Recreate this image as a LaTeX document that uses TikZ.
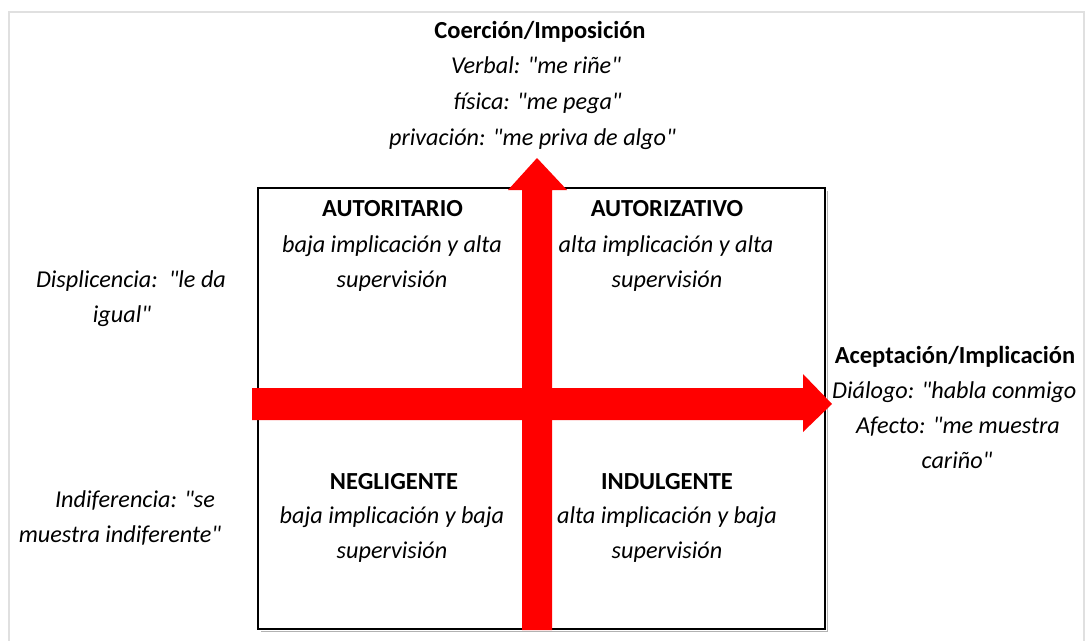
\documentclass[tikz,border=0pt]{standalone}
\usepackage{fontspec}
\setmainfont{Carlito}[Ligatures=TeXOff]
\begin{document}
\begin{tikzpicture}[x=1pt,y=-1pt,
  txt/.style={font=\fontsize{24.2}{28}\selectfont\itshape, inner sep=0pt, anchor=base},
  hdr/.style={font=\fontsize{24.5}{28}\selectfont\bfseries, inner sep=0pt, anchor=base},
  redarrow/.style={fill=red, draw=none}]
\useasboundingbox (0,0) rectangle (1085,641);
% outer frame
\draw[black!12, line width=1.5pt] (9,641) -- (9,12) -- (1084,12) -- (1084,641);
% box with light shadow
\draw[black!30, line width=1pt] (827,191) -- (827,631) -- (261,631);
\draw[black, line width=2.2pt] (258,188) rectangle (825,629);
% arrows
\fill[redarrow] (252,388) -- (803,388) -- (803,374) -- (832,404) -- (803,432) -- (803,420) -- (252,420) -- cycle;
\fill[redarrow] (522,630) -- (522,190) -- (508,190) -- (537,158) -- (567,190) -- (552,190) -- (552,630) -- cycle;
% top block
\node[hdr] (t1) at (540,38) {Coerción/Imposición};
\node[txt] (t2) at (536,73) {Verbal: "me riñe"};
\node[txt] (t3) at (537.5,109) {física: "me pega"};
\node[txt] (t4) at (532.5,145) {privación: "me priva de algo"};
% quadrants
\node[hdr] (q1a) at (392.5,216) {AUTORITARIO};
\node[txt] (q1b) at (392,252) {baja implicación y alta};
\node[txt] (q1c) at (392,287) {supervisión};
\node[hdr] (q2a) at (667,216) {AUTORIZATIVO};
\node[txt] (q2b) at (666,252) {alta implicación y alta};
\node[txt] (q2c) at (667,287) {supervisión};
\node[hdr] (q3a) at (394,489) {NEGLIGENTE};
\node[txt] (q3b) at (392,523) {baja implicación y baja};
\node[txt] (q3c) at (392,558) {supervisión};
\node[hdr] (q4a) at (667,489) {INDULGENTE};
\node[txt] (q4b) at (667,523) {alta implicación y baja};
\node[txt] (q4c) at (667,558) {supervisión};
% left
\node[txt] (l1) at (131,287) {Displicencia:\ \ "le da};
\node[txt] (l2) at (122,322) {igual"};
\node[txt] (l3) at (135,507) {Indiferencia: "se};
\node[txt] (l4) at (120,542) {muestra indiferente"};
% right
\node[hdr] (r1) at (955,363) {Aceptación/Implicación};
\node[txt, anchor=base west] (r2) at (832,398) {Diálogo: "habla conmigo};
\node[txt] (r3) at (958,433) {Afecto: "me muestra};
\node[txt] (r4) at (957,468) {cariño"};
\end{tikzpicture}
\end{document}
